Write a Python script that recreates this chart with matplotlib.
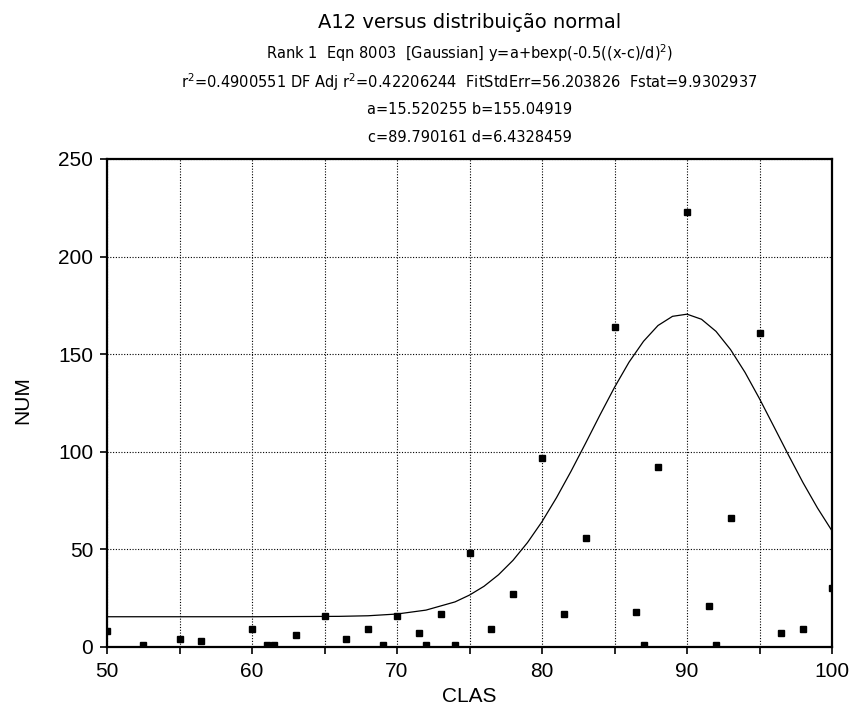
import numpy as np
import matplotlib
matplotlib.use("Agg")
import matplotlib.pyplot as plt

plt.rcParams.update({
    "font.family": ["Liberation Sans", "DejaVu Sans"],
    "font.size": 15,
})

# data points
clas = [50, 52.5, 55, 56.5, 60, 61, 61.5, 63, 65, 66.5, 68, 69, 70, 71.5, 72,
        73, 74, 75, 76.5, 78, 80, 81.5, 83, 85, 86.5, 87, 88, 90, 91.5, 92,
        93, 95, 96.5, 98, 100]
num = [8, 1, 4, 3, 9, 1, 1, 6, 16, 4, 9, 1, 16, 7, 1,
       17, 1, 48, 9, 27, 97, 17, 56, 164, 18, 1, 92, 223, 21, 1,
       66, 161, 7, 9, 30]

# fitted gaussian curve as drawn (sampled)
fit_x = [50, 60, 66, 68, 70, 72, 74, 75, 76, 77, 78, 79, 80, 81, 82, 83, 84,
         85, 86, 87, 88, 89, 90, 91, 92, 93, 94, 95, 96, 97, 98, 99, 100]
fit_y = [15.5, 15.5, 15.7, 16.0, 16.9, 18.9, 23.1, 26.6, 31.1, 37.0, 44.4,
         53.5, 64.2, 76.5, 90.0, 104.3, 118.9, 133.0, 145.9, 156.6, 164.7,
         169.4, 170.5, 167.9, 161.7, 152.4, 140.7, 127.2, 112.8, 98.3, 84.2,
         71.2, 59.5]

title = "A12 versus distribuição normal"
title_lines = [
    "Rank 1  Eqn 8003  [Gaussian] y=a+bexp(-0.5((x-c)/d)$^2$)",
    "r$^2$=0.4900551 DF Adj r$^2$=0.42206244  FitStdErr=56.203826  Fstat=9.9302937",
    "a=15.520255 b=155.04919",
    "c=89.790161 d=6.4328459",
]

fig = plt.figure(figsize=(8.55, 7.11), dpi=100)
ax = fig.add_axes([107 / 855, 1 - 647 / 711, 725 / 855, 488 / 711])

ax.plot(fit_x, fit_y, color="black", lw=0.9, zorder=3)
ax.plot(clas, num, ls="none", marker="s", ms=3.8, color="black", zorder=4)

ax.set_xlim(50, 100)
ax.set_ylim(0, 250)
ax.set_xticks(np.arange(50, 101, 10))
ax.set_xticks(np.arange(55, 100, 10), minor=True)
ax.set_yticks(np.arange(0, 251, 50))
ax.grid(True, which="both", color="black", ls=(0, (1, 1.5)), lw=0.8)
ax.tick_params(which="both", direction="out", length=5, width=1.2, color="black")
ax.tick_params(axis="x", labelsize=15, pad=6)
ax.tick_params(axis="y", labelsize=15, pad=5)
for s in ax.spines.values():
    s.set_linewidth(1.6)

ax.set_xlabel("CLAS", fontsize=15, va="center")
ax.xaxis.set_label_coords(0.5, -50 / 488)
ax.set_ylabel("NUM", fontsize=15, va="center")
ax.yaxis.set_label_coords(-84 / 725, 0.505)

cx = (107 + 832) / 2 / 855
fig.text(cx, 1 - 22 / 711, title, ha="center", va="center",
         fontsize=14, family="DejaVu Sans")
for yy, t in zip([53, 82, 110, 137], title_lines):
    fig.text(cx, 1 - yy / 711, t, ha="center", va="center",
             fontsize=10.5, family="DejaVu Sans")

fig.savefig("out.png", dpi=100)
